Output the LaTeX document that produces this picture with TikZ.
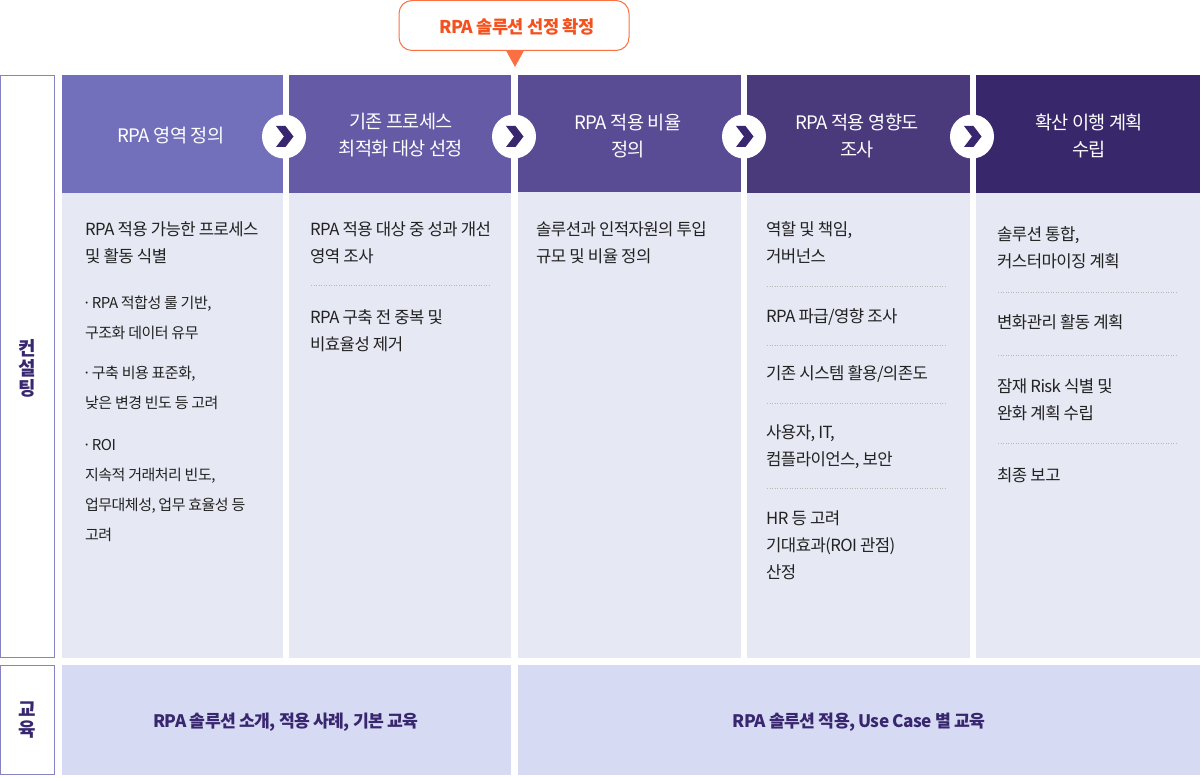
\documentclass[tikz,border=0pt]{standalone}
\usepackage{fontspec}
\setmainfont{Noto Sans CJK KR}[LetterSpace=-3.6]
\definecolor{hA}{HTML}{7270BA}
\definecolor{hB}{HTML}{645AA6}
\definecolor{hC}{HTML}{5A4C94}
\definecolor{hD}{HTML}{4A3A7C}
\definecolor{hE}{HTML}{38276B}
\definecolor{bodyc}{HTML}{E6E9F3}
\definecolor{eduC}{HTML}{D6DAF3}
\definecolor{ink}{HTML}{222222}
\definecolor{navy}{HTML}{38276F}
\definecolor{orangeC}{HTML}{F4511E}
\definecolor{orangeL}{HTML}{FB6F43}
\definecolor{frameC}{HTML}{8682C4}
\tikzset{
  x=1pt,y=-1pt,
  hdtxt/.style={text=white,font=\fontsize{18.6}{27.5}\selectfont,align=center,inner sep=0pt},
  bodytxt/.style={text=ink,font=\fontsize{16.7}{27}\selectfont,align=left,anchor=west,inner sep=0pt},
  smalltxt/.style={text=ink,font=\fontsize{15}{30}\selectfont,align=left,anchor=west,inner sep=0pt},
  edutxt/.style={text=navy,font=\bfseries\fontsize{17.2}{20}\selectfont,inner sep=0pt},
  sidetxt/.style={text=navy,font=\bfseries\fontsize{19}{20}\selectfont,align=center,inner sep=0pt},
  sep/.style={draw=black!28,line width=0.7pt,dash pattern=on 1pt off 1.5pt},
  round/.style={circle,fill=white,minimum size=44pt,inner sep=0pt},
}
\newcommand{\chev}[1]{\fill[navy] ([shift={(-8,-10.5)}]#1.center) -- ++(9.5,0) -- ++(8,10.5) -- ++(-8,10.5) -- ++(-9.5,0) -- ++(8,-10.5) -- cycle;}
\newcommand{\head}[4]{%
  \fill[#3] (#1,75) rectangle (#2,#4);
  \fill[bodyc] (#1,#4) rectangle (#2,658);}
\newcommand{\dotm}{\kern-2.5pt·\kern-2pt}
\begin{document}
\begin{tikzpicture}
\useasboundingbox (0,0) rectangle (1201,778);
% side frames
\draw[frameC,line width=1pt] (0.5,75.5) rectangle (54.5,657.5);
\draw[frameC,line width=1pt] (0.5,665.5) rectangle (54.5,774.5);
\node[sidetxt] (s1) at (27.5,368) {컨\\설\\팅};
\node[sidetxt] (s2) at (27.5,720) {교\\육};
% columns
\head{62}{283}{hA}{193}
\head{289}{511}{hB}{193}
\head{518}{741}{hC}{192}
\head{747}{970}{hD}{193}
\head{976}{1200}{hE}{193}
% headers
\node[hdtxt] (h1) at (171,136) {RPA 영역 정의};
\node[hdtxt] (h2) at (401,135) {기존 프로세스\\최적화 대상 선정};
\node[hdtxt] (h3) at (628,136) {RPA 적용 비율\\정의};
\node[hdtxt] (h4) at (857,136) {RPA 적용 영향도\\조사};
\node[hdtxt] (h5) at (1089,136) {확산 이행 계획\\수립};
% chevrons
\node[round] (c1) at (284,136.5) {}; \chev{c1}
\node[round] (c2) at (514,136.5) {}; \chev{c2}
\node[round] (c3) at (744,136.5) {}; \chev{c3}
\node[round] (c4) at (972,136.5) {}; \chev{c4}
% callout
\node[draw=orangeL,fill=white,rounded corners=13pt,line width=1pt,minimum width=230pt,minimum height=50pt,inner sep=0pt] (call) at (514,25.5) {};
\node[text=orangeC,font=\bfseries\fontsize{17.6}{20}\selectfont,inner sep=0pt] (calltext) at (517,26.5) {RPA 솔루션 선정 확정};
\fill[orangeL] (506,50.5) -- (524,50.5) -- (515,67) -- cycle;
% column 1
\node[bodytxt] (a1) at (85,243) {RPA 적용 가능한 프로세스\\및 활동 식별};
\node[smalltxt] (a2) at (85,317.5) {\dotm{} RPA 적합성 룰 기반,\\구조화 데이터 유무};
\node[smalltxt] (a3) at (85,388) {\dotm{} 구축 비용 표준화,\\낮은 변경 빈도 등 고려};
\node[smalltxt] (a4) at (85,490) {\dotm{} ROI\\지속적 거래처리 빈도,\\업무대체성, 업무 효율성 등\\고려};
% column 2
\node[bodytxt] (b1) at (310,243) {RPA 적용 대상 중 성과 개선\\영역 조사};
\draw[sep] (311,285.5) -- (491,285.5);
\node[bodytxt] (b2) at (310,331) {RPA 구축 전 중복 및\\비효율성 제거};
% column 3
\node[bodytxt] (d1) at (536,243) {솔루션과 인적자원의 투입\\규모 및 비율 정의};
% column 4
\node[bodytxt] (e1) at (766,243) {역할 및 책임,\\거버넌스};
\draw[sep] (767,286.5) -- (947,286.5);
\node[bodytxt] (e2) at (766,317.5) {RPA 파급/영향 조사};
\draw[sep] (767,345.5) -- (947,345.5);
\node[bodytxt] (e3) at (766,374.5) {기존 시스템 활용/의존도};
\draw[sep] (767,403.5) -- (947,403.5);
\node[bodytxt] (e4) at (766,447) {사용자, IT,\\컴플라이언스, 보안};
\draw[sep] (767,488.5) -- (947,488.5);
\node[bodytxt] (e5) at (766,545) {HR 등 고려\\기대효과(ROI 관점)\\산정};
% column 5
\node[bodytxt] (f1) at (997,248) {솔루션 통합,\\커스터마이징 계획};
\draw[sep] (998,292.5) -- (1178,292.5);
\node[bodytxt] (f2) at (997,322.5) {변화관리 활동 계획};
\draw[sep] (998,355.5) -- (1178,355.5);
\node[bodytxt] (f3) at (997,399.5) {잠재 Risk 식별 및\\완화 계획 수립};
\draw[sep] (998,443.5) -- (1178,443.5);
\node[bodytxt] (f4) at (997,475.5) {최종 보고};
% education
\fill[eduC] (62,665) rectangle (511,775);
\fill[eduC] (518,665) rectangle (1200,775);
\node[edutxt] (g1) at (286,722) {RPA 솔루션 소개, 적용 사례, 기본 교육};
\node[edutxt] (g2) at (859,722) {RPA 솔루션 적용, Use Case 별 교육};
\end{tikzpicture}
\end{document}
